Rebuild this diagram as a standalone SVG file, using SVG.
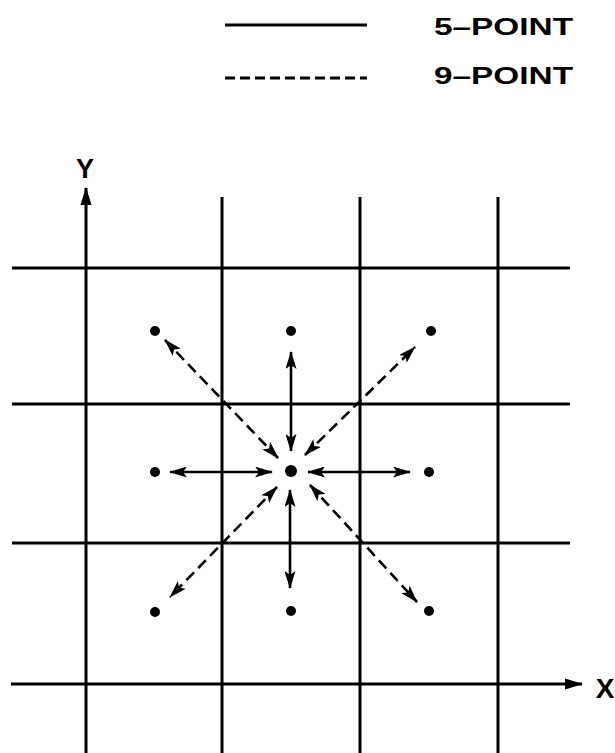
<svg xmlns="http://www.w3.org/2000/svg" width="615" height="753" viewBox="0 0 615 753">
<style>
.grid{stroke:#000;stroke-width:3;fill:none}
.sol{stroke:#000;stroke-width:2.6;fill:none}
.dash{stroke:#000;stroke-width:2.6;fill:none;stroke-dasharray:11 6}
.lbl{font-family:"Liberation Sans",Arial,sans-serif;font-weight:bold;fill:#000}
.dot{fill:#000}
</style>
<defs>
<marker id="ah" markerUnits="userSpaceOnUse" markerWidth="19" markerHeight="11" refX="17" refY="5.5" orient="auto-start-reverse" viewBox="0 0 19 11">
<path d="M0,0 L18,5.5 L0,11 L4,5.5 z" fill="#000"/>
</marker>
<marker id="axh" markerUnits="userSpaceOnUse" markerWidth="19" markerHeight="12" refX="17" refY="5.5" orient="auto" viewBox="0 0 19 11">
<path d="M0,0 L18,5.5 L0,11 z" fill="#000"/>
</marker>
</defs>
<g id="legend">
<line x1="225" y1="25" x2="367" y2="25" class="grid"/>
<line x1="225" y1="78" x2="367" y2="78" class="grid" style="stroke-dasharray:10 5"/>
<text x="434" y="35" class="lbl" font-size="24" textLength="139" lengthAdjust="spacingAndGlyphs">5–POINT</text>
<text x="434" y="84" class="lbl" font-size="24" textLength="139" lengthAdjust="spacingAndGlyphs">9–POINT</text>
</g>
<g id="grid">
<line x1="86" y1="753" x2="86" y2="188" class="grid" marker-end="url(#axh)"/>
<line x1="222" y1="197" x2="222" y2="753" class="grid"/>
<line x1="360" y1="197" x2="360" y2="753" class="grid"/>
<line x1="498" y1="197" x2="498" y2="753" class="grid"/>
<line x1="12" y1="268" x2="570" y2="268" class="grid"/>
<line x1="12" y1="404" x2="570" y2="404" class="grid"/>
<line x1="12" y1="543" x2="570" y2="543" class="grid"/>
<line x1="11" y1="684" x2="582" y2="684" class="grid" marker-end="url(#axh)"/>
<text x="85" y="178" class="lbl" font-size="27" text-anchor="middle">Y</text>
<text x="605" y="698" class="lbl" font-size="28" text-anchor="middle">X</text>
</g>
<g id="nodes">
<circle id="n-tl" cx="155" cy="331" r="5" class="dot"/>
<circle id="n-tc" cx="291" cy="331" r="5" class="dot"/>
<circle id="n-tr" cx="431" cy="331" r="5" class="dot"/>
<circle id="n-ml" cx="155" cy="472" r="5" class="dot"/>
<circle id="n-c" cx="291" cy="471" r="6" class="dot"/>
<circle id="n-mr" cx="429" cy="472" r="5" class="dot"/>
<circle id="n-bl" cx="155" cy="612" r="5" class="dot"/>
<circle id="n-bc" cx="291" cy="611" r="5" class="dot"/>
<circle id="n-br" cx="429" cy="611" r="5" class="dot"/>
</g>
<g id="connectors">
<line x1="291" y1="451" x2="291" y2="352" class="sol" marker-start="url(#ah)" marker-end="url(#ah)"/>
<line x1="290" y1="490" x2="290" y2="588" class="sol" marker-start="url(#ah)" marker-end="url(#ah)"/>
<line x1="272" y1="472" x2="170" y2="472" class="sol" marker-start="url(#ah)" marker-end="url(#ah)"/>
<line x1="308" y1="472" x2="410" y2="472" class="sol" marker-start="url(#ah)" marker-end="url(#ah)"/>
<line x1="278" y1="458" x2="165" y2="340" class="dash" marker-start="url(#ah)" marker-end="url(#ah)"/>
<line x1="305" y1="455" x2="415" y2="347" class="dash" marker-start="url(#ah)" marker-end="url(#ah)"/>
<line x1="277" y1="487" x2="170" y2="597" class="dash" marker-start="url(#ah)" marker-end="url(#ah)"/>
<line x1="310" y1="485" x2="417" y2="602" class="dash" marker-start="url(#ah)" marker-end="url(#ah)"/>
</g>
</svg>
